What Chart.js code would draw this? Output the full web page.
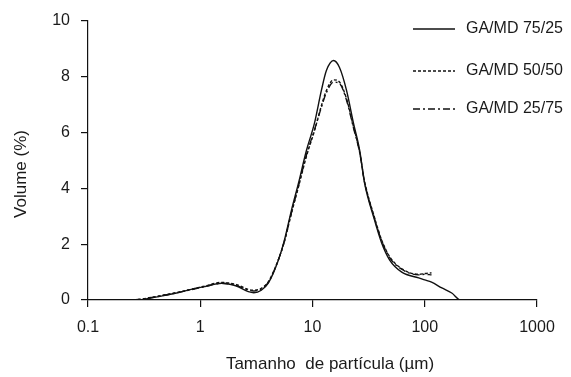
<!DOCTYPE html>
<html>
<head>
<meta charset="utf-8">
<script src="https://cdn.jsdelivr.net/npm/chart.js@4.4.0/dist/chart.umd.min.js"></script>
<style>
  html, body { margin: 0; padding: 0; background: #fff; }
  #box { width: 571px; height: 377px; position: relative; }
</style>
</head>
<body>
<div id="box"><canvas id="grafico"></canvas></div>
<script>
// tamanho de partícula (µm)
var tamanhos = [0.1, 0.2, 0.28, 0.35, 0.45, 0.6, 0.83, 1.1, 1.55, 2.1, 2.68, 3.0, 3.5, 4.05, 4.97,
    5.62, 6.49, 7.5, 8.84, 10.4, 12.0, 13.3, 15.4, 17.4, 20.1, 23.2, 26.3, 29.1, 35.1, 41.3,
    48.7, 62.4, 88.3, 100, 115, 142, 174, 209, 300, 560];

// volume (%)
var ga7525 = [0, 0, 0, 0.06, 0.14, 0.24, 0.38, 0.48, 0.6, 0.5, 0.3, 0.26, 0.35, 0.61, 1.43,
    2.14, 3.21, 4.18, 5.36, 6.32, 7.5, 8.21, 8.57, 8.32, 7.5, 6.32, 5.36, 4.18, 2.96, 2.04,
    1.43, 1.0, 0.79, 0.72, 0.64, 0.43, 0.25, 0, 0, 0];
var ga5050 = [0, 0, 0.02, 0.08, 0.16, 0.26, 0.38, 0.5, 0.63, 0.55, 0.38, 0.35, 0.42, 0.66, 1.45,
    2.1, 3.1, 4.05, 5.15, 6.05, 6.95, 7.5, 7.88, 7.8, 7.2, 6.2, 5.3, 4.25, 3.05, 2.15,
    1.55, 1.12, 0.92, 0.95, 0.97, null, null, null, null, null];
var ga2575 = [0, 0, 0.02, 0.07, 0.15, 0.25, 0.37, 0.48, 0.6, 0.52, 0.35, 0.32, 0.4, 0.64, 1.44,
    2.1, 3.12, 4.08, 5.2, 6.08, 6.9, 7.42, 7.8, 7.75, 7.15, 6.15, 5.28, 4.22, 3.02, 2.12,
    1.52, 1.1, 0.9, 0.92, 0.9, null, null, null, null, null];

var series = ['GA/MD 75/25', 'GA/MD 50/50', 'GA/MD 25/75'];
var xTicks = [0.1, 1, 10, 100, 1000];
var yTicks = [0, 2, 4, 6, 8, 10];

var fonte = 'Liberation Sans, Arial, sans-serif';
var corTexto = '#1a1a1a';
var corEixo = '#111';

function pontos(valores) {
    var out = [];
    tamanhos.forEach(function(t, i) {
        if (valores[i] !== null) out.push({ x: t, y: valores[i] });
    });
    return out;
}

var estilos = [
    { dash: [], largura: 1.4 },
    { dash: [3, 2], largura: 1.4 },
    { dash: [7, 3, 2, 3], largura: 1.4 }
];

// legenda e títulos dos eixos desenhados à mão
var extras = {
    id: 'extras',
    afterDraw: function(chart) {
        var ctx = chart.ctx;
        ctx.save();
        ctx.fillStyle = corTexto;
        ctx.font = '16px ' + fonte;
        ctx.textBaseline = 'middle';
        ctx.textAlign = 'left';
        var ys = [29, 71, 109];
        series.forEach(function(nome, i) {
            ctx.strokeStyle = '#111';
            ctx.lineWidth = estilos[i].largura;
            ctx.setLineDash(estilos[i].dash);
            ctx.beginPath();
            ctx.moveTo(413, ys[i]);
            ctx.lineTo(455, ys[i]);
            ctx.stroke();
            ctx.fillText(nome, 466, ys[i]);
        });
        ctx.setLineDash([]);
        ctx.textAlign = 'center';
        ctx.font = '17px ' + fonte;
        ctx.fillText('Tamanho  de partícula (µm)', 330, 364);
        ctx.translate(21, 174);
        ctx.rotate(-Math.PI / 2);
        ctx.fillText('Volume (%)', 0, 0);
        ctx.restore();
    }
};

var ctx = document.getElementById('grafico').getContext('2d');
var grafico = new Chart(ctx, {
    type: 'line',
    data: {
        datasets: [ga7525, ga5050, ga2575].map(function(v, i) {
            return {
                label: series[i],
                data: pontos(v),
                borderColor: '#111',
                borderWidth: estilos[i].largura,
                borderDash: estilos[i].dash,
                pointRadius: 0,
                fill: false,
                cubicInterpolationMode: 'monotone'
            };
        })
    },
    options: {
        responsive: true,
        maintainAspectRatio: false,
        animation: false,
        layout: { padding: { top: 18, right: 34, left: 0, bottom: 0 } },
        plugins: {
            legend: { display: false },
            tooltip: { enabled: false }
        },
        scales: {
            x: {
                type: 'logarithmic',
                min: 0.1,
                max: 1000,
                afterBuildTicks: function(scale) {
                    scale.ticks = xTicks.map(function(v) { return { value: v }; });
                },
                afterFit: function(scale) { scale.height = 77; },
                ticks: {
                    color: corTexto,
                    font: { family: fonte, size: 16 },
                    padding: 11,
                    maxRotation: 0,
                    autoSkip: false,
                    callback: function(v) { return String(v); }
                },
                grid: { drawOnChartArea: false, drawTicks: true, tickLength: 7, color: corEixo, lineWidth: 1.2 },
                border: { display: true, color: corEixo, width: 1.2 }
            },
            y: {
                min: 0,
                max: 10,
                afterBuildTicks: function(scale) {
                    scale.ticks = yTicks.map(function(v) { return { value: v }; });
                },
                afterFit: function(scale) { scale.width = 88; },
                ticks: {
                    color: corTexto,
                    font: { family: fonte, size: 16 },
                    padding: 11
                },
                grid: { drawOnChartArea: false, drawTicks: true, tickLength: 7, color: corEixo, lineWidth: 1.2 },
                border: { display: true, color: corEixo, width: 1.2 }
            }
        }
    },
    plugins: [extras]
});
</script>
</body>
</html>
